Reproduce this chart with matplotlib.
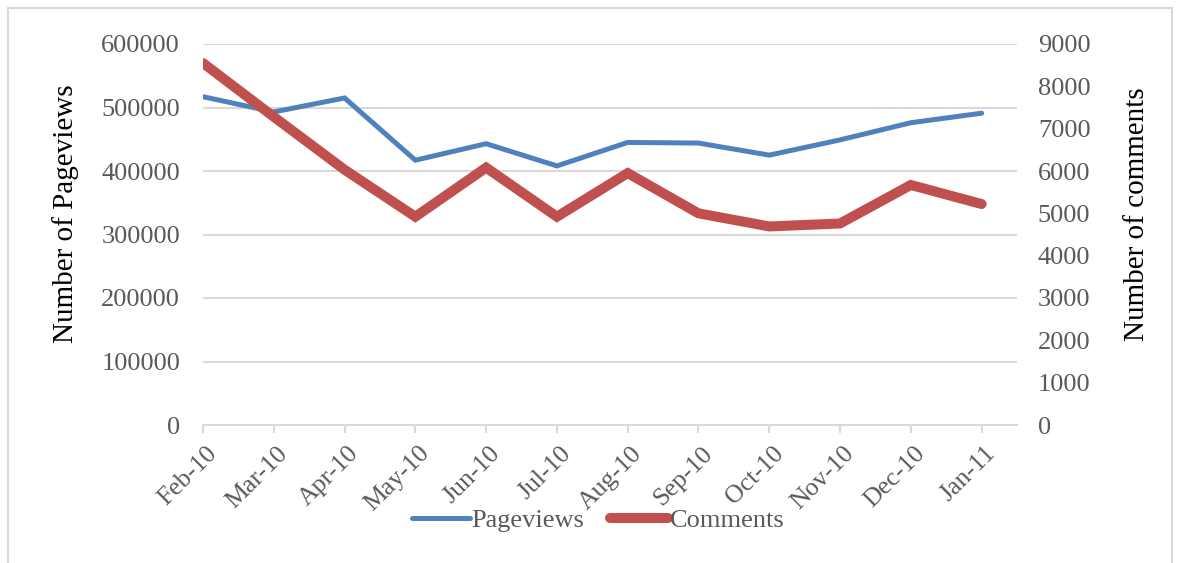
import matplotlib
matplotlib.use("Agg")
import matplotlib.pyplot as plt
from matplotlib.patches import Rectangle
from matplotlib.transforms import ScaledTranslation

months = ["Feb-10", "Mar-10", "Apr-10", "May-10", "Jun-10", "Jul-10",
          "Aug-10", "Sep-10", "Oct-10", "Nov-10", "Dec-10", "Jan-11"]
pageviews = [517000, 493000, 515000, 417000, 443000, 408000,
             445000, 444000, 425000, 449000, 476000, 491000]
comments = [8550, 7280, 6030, 4920, 6080, 4920,
            5950, 5000, 4690, 4760, 5670, 5220]

plt.rcParams['font.family'] = ['Liberation Serif', 'DejaVu Serif']

blue = "#4f81bd"
red = "#c0504d"
grey_txt = "#595959"
grid_c = "#d9d9d9"

fig = plt.figure(figsize=(11.81, 5.63), dpi=100)
fig.patches.append(Rectangle((8 / 1181, -0.05), 1164 / 1181, 1 - 8 / 563 + 0.05,
                             transform=fig.transFigure, fill=False,
                             edgecolor=grid_c, lw=1.5))

ax = fig.add_axes([203 / 1181, 1 - 425 / 563, (1017 - 203) / 1181, (425 - 44) / 563])
ax2 = ax.twinx()

x = list(range(len(months)))
l1, = ax.plot(x, pageviews, color=blue, lw=3.6, solid_capstyle='round',
              solid_joinstyle='miter', label="Pageviews")
l2, = ax2.plot(x, comments, color=red, lw=7.2, solid_capstyle='round',
               solid_joinstyle='miter', label="Comments")

ax.set_xlim(0, 11.5)
ax.set_ylim(0, 600000)
ax2.set_ylim(0, 9000)
ax.set_yticks(range(0, 600001, 100000))
ax2.set_yticks(range(0, 9001, 1000))

ax.set_axisbelow(True)
ax.yaxis.grid(True, color=grid_c, lw=1.5)
for a in (ax, ax2):
    for s in a.spines.values():
        s.set_visible(False)
ax.spines['bottom'].set_visible(True)
ax.spines['bottom'].set_color(grid_c)
ax.spines['bottom'].set_linewidth(1.5)

ax.set_xticks(x)
ax.set_xticklabels(months, rotation=45, ha='right', rotation_mode='anchor')
ax.tick_params(axis='x', colors=grid_c, length=6, width=1.5, labelcolor=grey_txt,
               labelsize=18.5, pad=5)
# small nudge of the slanted month labels
shift = ScaledTranslation(3 / 100, -2 / 100, fig.dpi_scale_trans)
for lab in ax.get_xticklabels():
    lab.set_transform(lab.get_transform() + shift)
ax.tick_params(axis='y', length=0, labelcolor=grey_txt, labelsize=19, pad=16.5)
ax2.tick_params(axis='y', length=0, labelcolor=grey_txt, labelsize=19, pad=15)

ax.set_ylabel("Number of Pageviews", fontsize=21)
ax2.set_ylabel("Number of comments", fontsize=21)
ax.yaxis.set_label_coords(-0.152, 0.554)
ax2.yaxis.set_label_coords(1.131, 0.554)

fig.legend(handles=[l1, l2], loc='center', bbox_to_anchor=(598 / 1181, 1 - 520 / 563),
           ncol=2, frameon=False, fontsize=19, handlelength=2.2,
           handletextpad=0.05, columnspacing=1.0, labelcolor=grey_txt)

fig.savefig("out.png", dpi=100)
